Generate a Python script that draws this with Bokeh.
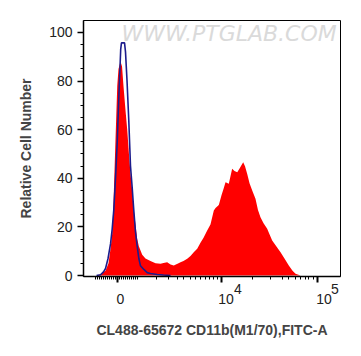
from bokeh.plotting import figure
from bokeh.models import FixedTicker, Range1d, LinearAxis
from bokeh.embed import file_html
from bokeh.resources import INLINE
from bokeh.core.properties import value

# x values are positions on the biexponential display axis (10^4 -> 4, 10^5 -> 5)
red_x = [2.708, 2.740, 2.771, 2.792, 2.823, 2.844, 2.861, 2.875, 2.891, 2.914, 2.927, 2.948,
         2.964, 2.979, 3.000, 3.018, 3.036, 3.052, 3.070, 3.086, 3.104, 3.122, 3.139, 3.174,
         3.208, 3.260, 3.313, 3.365, 3.396, 3.434, 3.469, 3.503, 3.542, 3.573, 3.604, 3.643,
         3.677, 3.711, 3.747, 3.781, 3.813, 3.851, 3.885, 3.920, 3.938, 3.972, 4.000, 4.024,
         4.042, 4.076, 4.111, 4.135, 4.164, 4.188, 4.226, 4.245, 4.268, 4.292, 4.320, 4.354,
         4.380, 4.406, 4.438, 4.476, 4.500, 4.528, 4.563, 4.615, 4.656, 4.701, 4.740, 4.771, 4.823]
red_y = [0.0, 0.5, 1.5, 2.0, 5.0, 11.0, 17.0, 30.0, 50.0, 78.0, 85.0, 88.0,
         86.0, 78.0, 68.0, 60.0, 50.0, 42.0, 35.0, 27.0, 21.0, 15.0, 12.0, 8.5,
         7.0, 6.0, 5.0, 4.8, 5.2, 5.5, 4.5, 4.1, 4.8, 5.5, 6.0, 6.9,
         8.0, 9.6, 11.0, 13.5, 15.5, 18.5, 21.0, 26.7, 27.8, 29.0, 33.0, 36.0,
         38.4, 37.7, 43.9, 43.0, 42.5, 44.0, 46.6, 45.0, 41.8, 38.0, 35.0, 31.6,
         27.0, 24.0, 21.5, 19.2, 17.0, 14.4, 12.5, 9.6, 7.0, 4.1, 2.0, 0.7, 0.0]

blue_x = [2.698, 2.740, 2.771, 2.792, 2.818, 2.844, 2.861, 2.878, 2.896, 2.914, 2.932, 2.950,
          2.958, 2.990, 3.000, 3.016, 3.034, 3.052, 3.070, 3.086, 3.104, 3.122, 3.139, 3.156,
          3.191, 3.226, 3.260, 3.330, 3.396, 3.469]
blue_y = [0.0, 0.3, 1.5, 2.9, 7.0, 13.0, 19.0, 27.0, 40.0, 55.0, 75.0, 93.0,
          95.7, 95.7, 92.0, 80.0, 64.0, 45.0, 36.0, 27.0, 18.0, 12.0, 7.0, 4.0,
          2.5, 1.2, 0.8, 0.4, 0.2, 0.0]

x_major = [2.9167, 4.0, 5.0]
x_tick_text = ["0", "10", "10"]
x_tick_sup = ["4", "5"]
y_major = [0, 20, 40, 60, 80, 100]
y_minor = [5, 10, 15, 25, 30, 35, 45, 50, 55, 65, 70, 75, 85, 90, 95]

def u(px):
    return 4 + (px - 221) / 96.0

x_minor_px = list(range(95, 138, 2)) + [156, 168, 177, 183, 190, 195, 200, 205, 209, 213, 217,
                                         251.7, 270, 281.7, 288.3, 295, 300, 305, 308.3, 313.3]
x_minor = [round(u(v), 4) for v in x_minor_px]
# label anchor positions (slightly right of the ticks, as in the original)
text_pos = [round(u(120), 4), round(u(225.5), 4), round(u(323.5), 4)]
sup_pos = [round(u(237.5), 4), round(u(334.5), 4)]

FONT = "Liberation Sans"

p = figure(width=361, height=356, output_backend="svg", toolbar_location=None,
           x_range=Range1d(2.5625, 5.2396), y_range=Range1d(-0.4, 104.9),
           min_border_left=83, min_border_right=21, min_border_top=20, min_border_bottom=80)
p.background_fill_color = "white"
p.border_fill_color = "white"
p.outline_line_color = "black"
p.outline_line_width = 1
p.xgrid.visible = False
p.ygrid.visible = False

# watermark
p.text(x=[2.958], y=[99.6], text=["WWW.PTGLAB.COM"], text_font=value("DejaVu Sans"),
       text_font_size="22px", text_font_style="italic", text_color="#dadada",
       text_baseline="middle", text_align="left")

p.varea(x=red_x, y1=[0] * len(red_x), y2=red_y, fill_color="#ff0000", fill_alpha=1.0)
p.line(x=blue_x, y=blue_y, line_color="#1c1c8c", line_width=1.6)

# y axis
ya = p.yaxis[0]
ya.ticker = FixedTicker(ticks=y_major, minor_ticks=y_minor)
ya.major_tick_out = 6
ya.major_tick_in = 0
ya.minor_tick_out = 3
ya.minor_tick_in = 0
ya.major_tick_line_width = 1.5
ya.axis_line_width = 1.5
ya.major_label_text_font = FONT
ya.major_label_text_font_size = "14px"
ya.major_label_text_color = "#222222"
ya.axis_label = "Relative Cell Number"
ya.axis_label_text_font = FONT
ya.axis_label_text_font_style = "bold"
ya.axis_label_text_font_size = "14px"
ya.axis_label_standoff = 12

# x axis: ticks only
xa = p.xaxis[0]
xa.ticker = FixedTicker(ticks=x_major, minor_ticks=x_minor)
xa.major_tick_out = 6
xa.major_tick_in = 0
xa.minor_tick_out = 3
xa.minor_tick_in = 0
xa.major_tick_line_width = 2
xa.axis_line_width = 1.5
xa.major_label_overrides = {t: "" for t in x_major}
xa.major_label_text_font_size = "0px"
xa.major_label_standoff = 0

def label_axis(ticks, texts, standoff):
    ax = LinearAxis(ticker=FixedTicker(ticks=ticks, minor_ticks=[]))
    ax.axis_line_color = None
    ax.major_tick_line_color = None
    ax.minor_tick_line_color = None
    ax.major_tick_out = 0
    ax.major_tick_in = 0
    ax.minor_tick_out = 0
    ax.minor_tick_in = 0
    ax.major_label_overrides = {t: s for t, s in zip(ticks, texts)}
    ax.major_label_text_font = FONT
    ax.major_label_text_font_size = "14px"
    ax.major_label_text_color = "#222222"
    ax.major_label_standoff = standoff
    return ax

sup_axis = label_axis(sup_pos, x_tick_sup, 1)
p.add_layout(sup_axis, "below")

txt_axis = label_axis(text_pos, x_tick_text, -3)
txt_axis.axis_label = "CL488-65672 CD11b(M1/70),FITC-A"
txt_axis.axis_label_text_font = FONT
txt_axis.axis_label_text_font_style = "bold"
txt_axis.axis_label_text_font_size = "14px"
txt_axis.axis_label_standoff = 15
p.add_layout(txt_axis, "below")

open("out.html", "w").write(file_html(p, INLINE))
